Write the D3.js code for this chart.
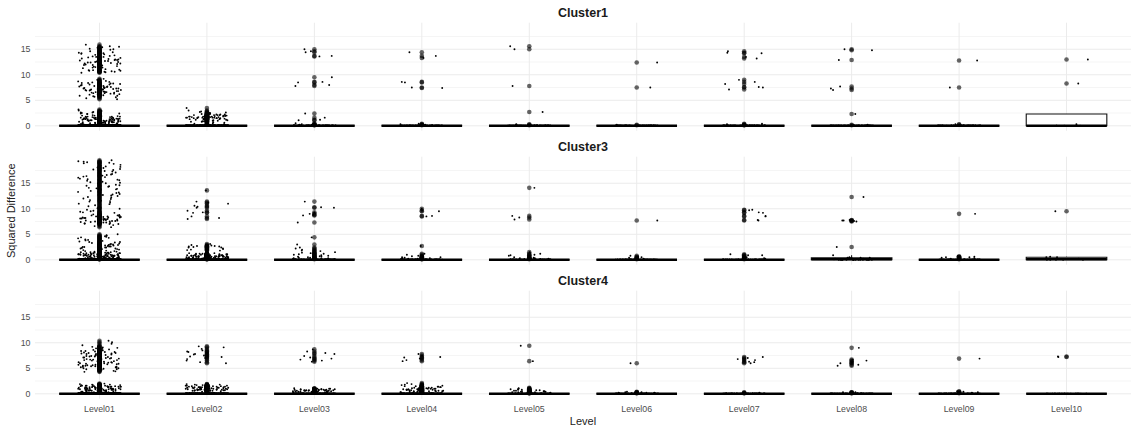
<!DOCTYPE html>
<html>
<head>
<meta charset="utf-8">
<script src="https://cdn.jsdelivr.net/npm/d3@7"></script>
<style>
  body { margin: 0; background: #fff; }
  svg { display: block; font-family: "Liberation Sans", Arial, sans-serif; }
</style>
</head>
<body>
<svg width="1131" height="427"></svg>
<script>
const width = 1131;
const height = 427;

const levels = ["Level01", "Level02", "Level03", "Level04", "Level05",
                "Level06", "Level07", "Level08", "Level09", "Level10"];
const clusters = ["Cluster1", "Cluster3", "Cluster4"];
const yTicks = [0, 5, 10, 15];
const yMinorTicks = [2.5, 7.5, 12.5, 17.5];

// count of exact zeros per level (these collapse the boxes onto 0)
const zerosCluster1 = [1000, 400, 150, 150, 150, 150, 150, 150, 150, 5];
const zerosCluster3 = [1200, 420, 200, 150, 150, 120, 120, 18, 120, 5];
const zerosCluster4 = [900, 420, 250, 300, 150, 120, 120, 120, 120, 40];

// non-zero squared differences
const c1L01 = [15.9, 15.6, 15.4, 15.3, 15.1, 15.0, 14.9, 14.7, 14.6, 14.5, 14.3, 14.2, 14.0, 13.9, 13.8, 13.6, 13.5, 13.4, 13.3, 13.1,
  13.0, 12.9, 12.8, 12.7, 12.5, 12.4, 12.3, 12.2, 12.1, 12.0, 11.9, 11.8, 11.6, 11.5, 11.4, 11.3, 11.1, 11.0, 10.9, 10.8,
  10.7, 10.6, 10.5, 10.4, 14.8, 14.4, 13.7, 13.2, 12.6, 12.2, 11.7, 11.2, 10.9, 15.2, 14.1, 12.9, 12.4, 11.4, 10.6, 13.5,
  12.0, 14.6, 13.0, 15.5, 11.9, 12.7, 14.2, 10.8, 13.3, 12.5,
  9.2, 9.0, 8.9, 8.7, 8.6, 8.5, 8.4, 8.3, 8.2, 8.1, 8.0, 7.9, 7.8, 7.7, 7.6, 7.5, 7.4, 7.3, 7.2, 7.1, 7.0, 6.9, 6.8, 6.7,
  6.6, 6.5, 6.4, 6.3, 6.2, 6.1, 6.0, 5.9, 5.8, 5.6, 5.4, 5.2, 8.8, 8.3, 7.9, 7.6, 7.3, 7.1, 6.9, 6.6, 6.4, 6.2, 5.9, 7.7,
  7.2, 6.8, 6.5, 7.4, 7.0, 6.7, 8.1, 7.5, 6.3, 7.8, 7.1, 6.9, 8.4, 5.7, 7.3, 6.6, 7.0,
  3.2, 3.0, 2.9, 2.8, 2.7, 2.6, 2.6, 2.5, 2.4, 2.4, 2.3, 2.2, 2.2, 2.1, 2.0, 2.0, 1.9, 1.9, 1.8, 1.8, 1.8, 1.7, 1.7, 1.7,
  1.6, 1.6, 1.6, 1.5, 1.5, 1.5, 1.5, 1.4, 1.4, 1.4, 1.4, 1.3, 1.3, 1.3, 1.3, 1.2, 1.2, 1.2, 1.2, 1.1, 1.1, 1.1, 1.1, 1.0,
  1.0, 1.0, 1.0, 0.9, 0.9, 0.9, 0.9, 0.8, 0.8, 0.8, 0.8, 0.7, 0.7, 0.7, 0.7, 0.6, 0.6, 0.6, 0.6, 0.5, 0.5, 0.5, 0.5, 0.4,
  0.4, 0.4, 0.3, 0.3, 0.3, 0.2, 0.2, 0.2, 1.9, 1.6, 1.3, 1.0, 0.7, 1.5, 1.2, 0.9, 1.8, 1.1, 0.6, 1.4, 0.8, 2.1, 1.7, 1.3,
  1.0, 0.5, 2.3, 1.6];
const c1L02 = [3.5, 3.0, 2.8, 2.7, 2.6, 2.5, 2.5, 2.4, 2.4, 2.3, 2.3, 2.2, 2.2, 2.1, 2.1, 2.1, 2.0, 2.0, 2.0, 1.9, 1.9, 1.9,
  1.8, 1.8, 1.8, 1.8, 1.7, 1.7, 1.7, 1.7, 1.6, 1.6, 1.6, 1.6, 1.5, 1.5, 1.5, 1.5, 1.4, 1.4, 1.4, 1.3, 1.3, 1.3, 1.2, 1.2,
  1.2, 1.1, 1.1, 1.0, 1.0, 0.9, 0.9, 0.8, 0.8, 0.7, 0.6, 0.5, 0.4, 0.3, 0.2, 2.0, 1.8, 1.6, 1.4, 1.9, 1.7, 1.5, 2.2, 1.3,
  1.8, 1.6, 2.1, 1.4, 1.7, 1.9];
const c1L03 = [15.0, 14.6, 14.4, 13.7, 13.6, 9.5, 8.6, 8.5, 8.0, 7.8, 2.4, 1.6, 1.2, 1.1, 0.5, 0.3, 0.3, 0.2, 0.2, 0.1, 0.1];
const c1L04 = [14.4, 13.7, 13.3, 8.6, 8.5, 7.5, 7.4, 0.4, 0.3, 0.2, 0.2, 0.1];
const c1L05 = [15.6, 15.0, 7.8, 2.7, 0.3, 0.2, 0.1];
const c1L06 = [12.4, 7.5, 0.2, 0.1];
const c1L07 = [14.6, 14.3, 14.2, 13.5, 13.2, 9.0, 8.6, 8.2, 7.6, 7.5, 7.1, 0.4, 0.3, 0.2, 0.1, 0.1];
const c1L08 = [15.0, 14.8, 12.9, 7.7, 7.3, 7.0, 2.3, 0.2, 0.1];
const c1L09 = [12.8, 7.5, 0.3, 0.2];
const c1L10 = [0.3, 8.3, 13.0];

const c3L01 = [19.5, 19.3, 19.1, 19.0, 18.8, 18.6, 18.5, 18.3, 18.2, 18.0, 17.9, 17.7, 17.6, 17.4, 17.3, 17.1, 17.0, 16.8,
  16.7, 16.5, 16.4, 16.2, 16.1, 15.9, 15.8, 15.6, 15.5, 15.3, 15.2, 15.0, 14.9, 14.7, 14.6, 14.4, 14.3, 14.1, 14.0, 13.8,
  13.7, 13.5, 13.4, 13.2, 13.1, 12.9, 12.8, 12.6, 12.5, 12.3, 12.2, 12.0, 11.9, 11.7, 11.6, 11.4, 11.2, 11.0, 18.9, 17.5,
  16.3, 15.1, 13.9, 12.7, 11.5, 17.8, 16.6, 14.5, 19.2, 18.1, 15.7, 13.3,
  10.9, 10.7, 10.5, 10.3, 10.1, 10.0, 9.8, 9.6, 9.5, 9.3, 9.2, 9.0, 8.9, 8.8, 8.7, 8.6, 8.5, 8.4, 8.3, 8.2, 8.1, 8.0,
  7.9, 7.8, 7.7, 7.6, 7.5, 7.4, 7.3, 7.2, 7.1, 7.0, 6.8, 6.6, 6.4, 8.9, 8.6, 8.3, 8.0, 7.8, 7.6, 7.4, 7.2, 8.5, 8.1, 7.7,
  7.5, 7.9, 8.2, 7.3, 8.4, 7.1, 9.1, 8.7, 7.8, 8.0, 9.4, 10.2, 7.0, 8.3,
  5.0, 4.8, 4.7, 4.5, 4.4, 4.2, 4.1, 3.9, 3.8, 3.6, 3.5, 3.4, 3.2, 3.1, 3.0, 2.9, 2.8, 2.7, 2.6, 2.5, 2.4, 2.3, 2.2, 2.1,
  2.0, 4.6, 4.0, 3.7, 3.3, 2.9, 2.6, 2.4, 2.2, 4.3, 3.5, 2.8, 2.1, 3.0, 2.5, 2.3,
  1.9, 1.8, 1.7, 1.6, 1.6, 1.5, 1.5, 1.4, 1.4, 1.4, 1.3, 1.3, 1.3, 1.2, 1.2, 1.2, 1.2, 1.1, 1.1, 1.1, 1.1, 1.0, 1.0, 1.0,
  1.0, 1.0, 0.9, 0.9, 0.9, 0.9, 0.9, 0.8, 0.8, 0.8, 0.8, 0.8, 0.7, 0.7, 0.7, 0.7, 0.7, 0.6, 0.6, 0.6, 0.6, 0.6, 0.5, 0.5,
  0.5, 0.5, 0.5, 0.4, 0.4, 0.4, 0.4, 0.4, 0.3, 0.3, 0.3, 0.3, 0.3, 0.2, 0.2, 0.2, 0.2, 0.1, 0.1, 0.1, 1.7, 1.5, 1.3, 1.1,
  0.9, 0.7, 0.5, 0.3, 1.2, 1.0, 0.8, 0.6, 0.4, 0.2, 1.4, 0.9, 0.6, 0.3, 1.1, 0.8, 0.5, 1.0];
const c3L02 = [13.6, 11.4, 11.2, 11.0, 10.6, 10.4, 10.2, 9.6, 9.3, 9.2, 8.5, 8.2, 8.0, 3.1, 2.9, 2.8, 2.7, 2.6, 2.5, 2.4,
  2.3, 2.2, 2.0, 1.9, 2.7, 2.4, 2.1, 1.8, 2.6,
  1.3, 1.3, 1.2, 1.2, 1.2, 1.1, 1.1, 1.1, 1.1, 1.0, 1.0, 1.0, 1.0, 0.9, 0.9, 0.9, 0.9, 0.9, 0.8, 0.8, 0.8, 0.8, 0.8, 0.7,
  0.7, 0.7, 0.7, 0.7, 0.6, 0.6, 0.6, 0.6, 0.6, 0.5, 0.5, 0.5, 0.5, 0.5, 0.4, 0.4, 0.4, 0.4, 0.4, 0.3, 0.3, 0.3, 0.3, 0.2,
  0.2, 0.2, 0.2, 0.1, 0.1, 0.1, 1.0, 0.8, 0.6, 0.9, 0.7, 0.5, 1.1, 0.4, 0.8, 0.6, 1.2, 0.3, 0.9, 0.7];
const c3L03 = [11.4, 10.3, 10.2, 9.3, 9.0, 8.8, 8.7, 7.3, 4.4, 3.0, 2.4, 2.2, 2.0, 1.8, 1.7, 1.5, 1.4, 1.3, 1.2, 1.1,
  1.0, 0.9, 0.8, 0.7, 0.6, 0.6, 0.5, 0.4, 0.4, 0.3, 0.3, 0.2, 0.2, 0.1];
const c3L04 = [10.0, 9.6, 9.5, 8.6, 8.5, 2.7, 1.2, 1.0, 0.8, 0.7, 0.6, 0.5, 0.5, 0.4, 0.3, 0.3, 0.2, 0.2, 0.1, 0.1];
const c3L05 = [14.1, 8.6, 8.3, 7.9, 1.5, 1.2, 1.0, 0.9, 0.8, 0.6, 0.5, 0.4, 0.3, 0.3, 0.2, 0.2, 0.1];
const c3L06 = [7.7, 0.8, 0.6, 0.5, 0.4, 0.3, 0.2, 0.2, 0.1];
const c3L07 = [9.8, 9.7, 9.3, 9.2, 8.6, 8.5, 7.8, 7.7, 1.1, 0.9, 0.9, 0.7, 0.5, 0.4, 0.3, 0.2, 0.1];
const c3L08 = [12.3, 7.8, 7.7, 7.7, 7.6, 7.5, 2.5, 0.9, 0.5, 0.4, 0.4, 0.4, 0.3, 0.3, 0.3, 0.2, 0.2, 0.2, 0.1, 0.1, 0.1];
const c3L09 = [9.0, 0.7, 0.6, 0.5, 0.5, 0.4, 0.3, 0.2, 0.1];
const c3L10 = [9.5, 0.6, 0.5, 0.5, 0.2];

const c4L01 = [10.4, 10.1, 9.8, 9.5, 9.3, 9.1, 9.0, 8.9, 8.8, 8.7, 8.6, 8.5, 8.4, 8.3, 8.2, 8.1, 8.0, 7.9, 7.8, 7.7,
  7.6, 7.5, 7.4, 7.3, 7.2, 7.1, 7.0, 6.9, 6.8, 6.7, 6.6, 6.5, 6.4, 6.3, 6.2, 6.1, 6.0, 5.9, 5.8, 5.7, 5.6, 5.5, 5.4, 5.3,
  5.2, 5.1, 5.0, 4.9, 4.8, 4.7, 4.6, 4.5, 4.4, 4.3, 8.6, 8.2, 7.8, 7.4, 7.0, 6.6, 6.2, 5.8, 5.4, 5.0, 8.0, 7.3, 6.8, 6.3,
  5.6, 5.2, 7.6, 6.9, 6.0, 5.5, 8.4, 7.1, 6.4, 5.9, 4.8, 7.9, 6.7, 5.3, 9.2, 6.1, 5.7,
  2.0, 1.9, 1.8, 1.8, 1.7, 1.7, 1.6, 1.6, 1.6, 1.5, 1.5, 1.5, 1.5, 1.4, 1.4, 1.4, 1.4, 1.3, 1.3, 1.3, 1.3, 1.2, 1.2, 1.2,
  1.2, 1.1, 1.1, 1.1, 1.1, 1.0, 1.0, 1.0, 1.0, 0.9, 0.9, 0.9, 0.9, 0.8, 0.8, 0.8, 0.8, 0.7, 0.7, 0.7, 0.7, 0.6, 0.6, 0.6,
  0.6, 0.5, 0.5, 0.5, 0.4, 0.4, 0.4, 0.3, 0.3, 0.3, 1.6, 1.4, 1.2, 1.0, 0.8, 0.6, 1.5, 1.3, 1.1, 0.9, 0.7, 0.5, 1.7, 1.4,
  1.1, 0.8, 1.3, 1.0, 0.6, 1.5, 1.2, 0.9];
const c4L02 = [9.3, 9.1, 8.8, 8.5, 8.3, 8.2, 8.0, 7.8, 7.7, 7.5, 7.3, 7.2, 7.0, 6.8, 6.5, 6.2, 6.0,
  1.9, 1.8, 1.8, 1.7, 1.7, 1.6, 1.6, 1.6, 1.5, 1.5, 1.5, 1.4, 1.4, 1.4, 1.4, 1.3, 1.3, 1.3, 1.3, 1.2, 1.2, 1.2, 1.2, 1.1,
  1.1, 1.1, 1.1, 1.0, 1.0, 1.0, 1.0, 0.9, 0.9, 0.9, 0.9, 0.8, 0.8, 0.8, 0.8, 0.7, 0.7, 0.7, 0.7, 0.6, 0.6, 0.6, 0.5, 0.5,
  0.5, 0.4, 0.4, 1.5, 1.3, 1.1, 0.9, 0.7, 1.6, 1.2, 0.8, 1.4, 1.0, 0.6, 1.7, 1.1, 0.9, 1.3];
const c4L03 = [8.7, 8.3, 8.0, 7.8, 7.4, 7.1, 6.9, 6.7, 6.5, 6.3,
  1.1, 1.0, 1.0, 0.9, 0.9, 0.9, 0.8, 0.8, 0.8, 0.8, 0.7, 0.7, 0.7, 0.7, 0.6, 0.6, 0.6, 0.6, 0.5, 0.5, 0.5, 0.5, 0.4, 0.4,
  0.4, 0.4, 0.3, 0.3, 0.3, 0.3, 0.9, 0.7, 0.5, 0.8, 0.6, 0.4, 1.0, 0.7, 0.5, 0.6];
const c4L04 = [7.8, 7.5, 7.2, 7.1, 6.9, 6.6, 6.4,
  2.1, 1.9, 1.8, 1.7, 1.6, 1.5, 1.5, 1.4, 1.4, 1.3, 1.3, 1.2, 1.2, 1.1, 1.1, 1.0, 1.0, 1.0, 0.9, 0.9, 0.9, 0.8, 0.8, 0.8,
  0.7, 0.7, 0.7, 0.6, 0.6, 0.6, 0.5, 0.5, 0.5, 0.4, 0.4, 0.4, 0.3, 0.3, 0.3, 1.6, 1.2, 0.9, 0.6, 1.4, 1.0, 0.7, 0.5, 1.1,
  0.8, 0.4];
const c4L05 = [9.4, 6.4, 1.2, 1.1, 1.0, 0.9, 0.9, 0.8, 0.8, 0.7, 0.7, 0.6, 0.6, 0.5, 0.5, 0.5, 0.4, 0.4, 0.4, 0.3, 0.3,
  0.3, 0.2, 0.2, 0.2, 0.1, 0.1, 0.1];
const c4L06 = [6.0, 0.4, 0.3, 0.3, 0.2, 0.2, 0.2, 0.1, 0.1];
const c4L07 = [7.2, 7.0, 6.8, 6.6, 6.3, 6.2, 6.0, 0.3, 0.2, 0.1, 0.1];
const c4L08 = [9.0, 6.7, 6.5, 6.3, 6.1, 6.0, 5.7, 5.5, 0.3, 0.3, 0.2, 0.2, 0.1, 0.1];
const c4L09 = [6.9, 0.5, 0.4, 0.3, 0.2, 0.1];
const c4L10 = [7.3, 7.2];

const valuesCluster1 = [c1L01, c1L02, c1L03, c1L04, c1L05, c1L06, c1L07, c1L08, c1L09, c1L10];
const valuesCluster3 = [c3L01, c3L02, c3L03, c3L04, c3L05, c3L06, c3L07, c3L08, c3L09, c3L10];
const valuesCluster4 = [c4L01, c4L02, c4L03, c4L04, c4L05, c4L06, c4L07, c4L08, c4L09, c4L10];

const panelValues = [valuesCluster1, valuesCluster3, valuesCluster4];
const panelZeros = [zerosCluster1, zerosCluster3, zerosCluster4];

const svg = d3.select("svg");

const panelLeft = 35;
const panelRight = 1131;
const panelHeight = 108;
const panelTops = [22.7, 156.7, 290.7];

const x = d3.scalePoint()
  .domain(levels)
  .range([panelLeft, panelRight])
  .padding(0.6);
const step = x.step();
const boxW = 0.75 * step;
const jitterW = 0.2 * step;

const grid = "#ebebeb";

// fixed hash so the jitter is the same on every render
function hash01(i, seed) {
  const s = Math.sin(i * 12.9898 + seed * 78.233) * 43758.5453;
  return s - Math.floor(s);
}

function boxStats(vals) {
  const s = vals.slice().sort(d3.ascending);
  const q1 = d3.quantile(s, 0.25);
  const med = d3.quantile(s, 0.5);
  const q3 = d3.quantile(s, 0.75);
  const iqr = q3 - q1;
  const hiFence = q3 + 1.5 * iqr;
  const loFence = q1 - 1.5 * iqr;
  const inside = s.filter(v => v >= loFence && v <= hiFence);
  return {
    q1, med, q3,
    lo: Math.min(q1, d3.min(inside)),
    hi: Math.max(q3, d3.max(inside)),
    outliers: s.filter(v => v < loFence || v > hiFence)
  };
}

clusters.forEach((name, ci) => {
  const top = panelTops[ci];
  const y = d3.scaleLinear()
    .domain([-0.96, 20.2])
    .range([top + panelHeight, top]);

  const g = svg.append("g");

  // grid
  g.selectAll(".minor")
    .data(yMinorTicks)
    .join("line")
    .attr("x1", panelLeft).attr("x2", panelRight)
    .attr("y1", d => y(d)).attr("y2", d => y(d))
    .attr("stroke", "#f2f2f2")
    .attr("stroke-width", 0.8);

  g.selectAll(".major")
    .data(yTicks)
    .join("line")
    .attr("x1", panelLeft).attr("x2", panelRight)
    .attr("y1", d => y(d)).attr("y2", d => y(d))
    .attr("stroke", grid)
    .attr("stroke-width", 1);

  g.selectAll(".vgrid")
    .data(levels)
    .join("line")
    .attr("x1", d => x(d)).attr("x2", d => x(d))
    .attr("y1", top).attr("y2", top + panelHeight)
    .attr("stroke", grid)
    .attr("stroke-width", 1);

  // y tick labels
  g.selectAll(".ytick")
    .data(yTicks)
    .join("text")
    .attr("x", 30.5)
    .attr("y", d => y(d))
    .attr("dy", "0.35em")
    .attr("text-anchor", "end")
    .attr("fill", "#4d4d4d")
    .style("font-size", "8.8px")
    .text(d => d);

  // strip title
  svg.append("text")
    .attr("x", (panelLeft + panelRight) / 2)
    .attr("y", top - 5.4)
    .attr("text-anchor", "middle")
    .attr("fill", "#1a1a1a")
    .style("font-size", "12.5px")
    .style("font-weight", "bold")
    .text(name);

  const cells = levels.map((lvl, li) => {
    const nonZero = panelValues[ci][li];
    const all = nonZero.concat(new Array(panelZeros[ci][li]).fill(0));
    return { level: lvl, li, values: all, stats: boxStats(all) };
  });

  cells.forEach(c => {
    const cx = x(c.level);
    const st = c.stats;
    const cg = g.append("g");

    // outliers
    cg.selectAll("circle")
      .data(st.outliers)
      .join("circle")
      .attr("cx", cx)
      .attr("cy", d => y(d))
      .attr("r", 2.3)
      .attr("fill", "#000")
      .attr("fill-opacity", 0.6);

    // whiskers
    cg.append("line")
      .attr("x1", cx).attr("x2", cx)
      .attr("y1", y(st.q3)).attr("y2", y(st.hi))
      .attr("stroke", "#000").attr("stroke-width", 1);
    cg.append("line")
      .attr("x1", cx).attr("x2", cx)
      .attr("y1", y(st.q1)).attr("y2", y(st.lo))
      .attr("stroke", "#000").attr("stroke-width", 1);

    // box
    const x0 = cx - boxW / 2, x1 = cx + boxW / 2;
    cg.append("path")
      .attr("d", `M${x0},${y(st.q1)}L${x1},${y(st.q1)}L${x1},${y(st.q3)}L${x0},${y(st.q3)}Z`)
      .attr("fill", "#fff")
      .attr("stroke", "#111")
      .attr("stroke-width", 1.1);

    // median
    cg.append("line")
      .attr("x1", x0).attr("x2", x1)
      .attr("y1", y(st.med)).attr("y2", y(st.med))
      .attr("stroke", "#000")
      .attr("stroke-width", 2.6);
  });

  // jittered raw points
  cells.forEach(c => {
    const cx = x(c.level);
    g.append("g")
      .selectAll("circle")
      .data(c.values)
      .join("circle")
      .attr("cx", (d, i) => cx + (hash01(i, ci * 10 + c.li + 1) - 0.5) * 2 * jitterW)
      .attr("cy", d => y(d))
      .attr("r", 0.95)
      .attr("fill", "#000");
  });
});

// axis labels
const lastBottom = panelTops[2] + panelHeight;
svg.append("g")
  .selectAll("text")
  .data(levels)
  .join("text")
  .attr("x", d => x(d))
  .attr("y", 412)
  .attr("text-anchor", "middle")
  .attr("fill", "#4d4d4d")
  .style("font-size", "8.8px")
  .text(d => d);

svg.append("text")
  .attr("x", (panelLeft + panelRight) / 2)
  .attr("y", 425)
  .attr("text-anchor", "middle")
  .attr("fill", "#222")
  .style("font-size", "11px")
  .text("Level");

svg.append("text")
  .attr("transform", `translate(15,${(panelTops[0] + lastBottom) / 2}) rotate(-90)`)
  .attr("text-anchor", "middle")
  .attr("fill", "#222")
  .style("font-size", "11px")
  .text("Squared Difference");
</script>
</body>
</html>
